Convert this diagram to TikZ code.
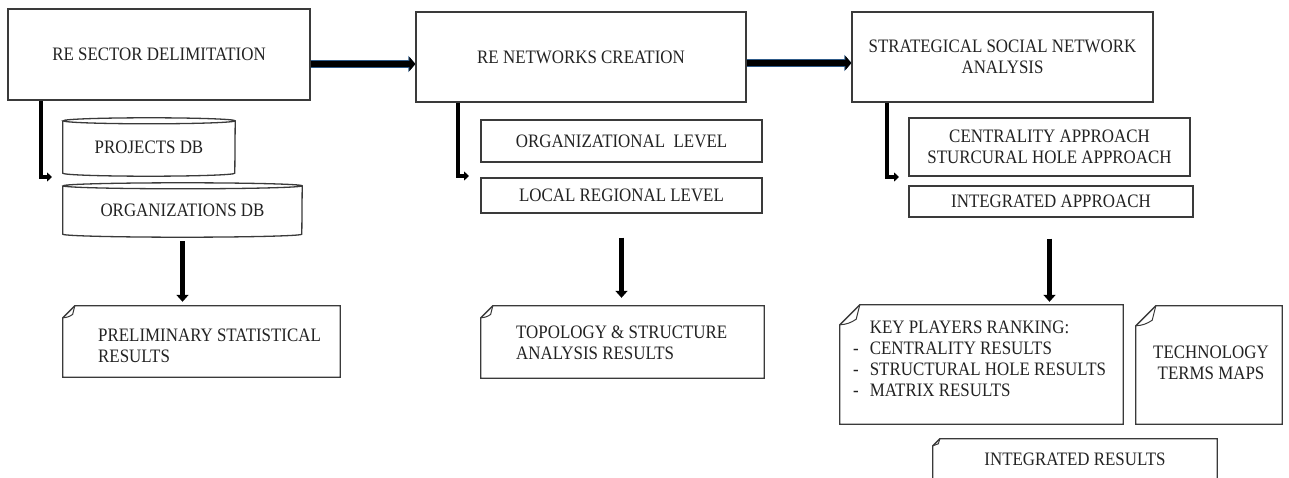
\documentclass[tikz,border=0pt]{standalone}
\usepackage{fontspec}
\setmainfont{Liberation Serif}[FakeStretch=0.89]
\usetikzlibrary{arrows.meta}

\definecolor{inkline}{HTML}{3A3A3A}
\definecolor{inktext}{HTML}{222222}
\definecolor{arrowrim}{HTML}{2E5A88}

\tikzset{
  boxline/.style={draw=inkline, line width=1.3pt},
  plainbox/.style={boxline, rectangle, inner sep=0pt, font=\fontsize{19}{21}\selectfont,
    text=inktext, align=center},
  ghost/.style={rectangle, inner sep=0pt},
  label text/.style={inner sep=0pt, font=\fontsize{19}{21}\selectfont, text=inktext},
  harrow/.style={line width=6pt, draw=black, -{Triangle[length=6pt,width=14pt]},
    preaction={draw=arrowrim, line width=7.6pt, -{Triangle[length=7pt,width=16pt]}}},
  varrow/.style={line width=5pt, draw=black, -{Triangle[length=7pt,width=12pt]}},
  elbow/.style={line width=4pt, draw=black, -{Triangle[length=5pt,width=9pt]}},
}

% cylinder outline around a node: #1 node, #2 half width
\newcommand\dbcan[2]{%
  \draw[boxline]
    ([yshift=-3pt]#1.north west) -- ([yshift=3pt]#1.south west)
    arc[start angle=180, end angle=360, x radius=#2pt, y radius=3pt]
    -- ([yshift=-3pt]#1.north east)
    arc[start angle=0, end angle=360, x radius=#2pt, y radius=3pt];}

% note outline with a folded top-left corner: #1 node, #2 fold size
\newcommand\foldnote[2]{%
  \draw[boxline] ([yshift=-#2pt]#1.north west) -- ([xshift=#2pt]#1.north west)
    -- (#1.north east) -- (#1.south east) -- (#1.south west) -- cycle;
  \draw[boxline, line width=1pt] ([xshift=#2pt]#1.north west)
    -- ([xshift=0.82*#2pt, yshift=-0.72*#2pt]#1.north west)
    to[bend left=15] ([yshift=-#2pt]#1.north west);}

\begin{document}
\begin{tikzpicture}[x=1pt, y=-1pt]
\useasboundingbox (0,0) rectangle (1289,478);
\clip (0,0) rectangle (1289,478);

% main stages
\node[plainbox, minimum width=302pt, minimum height=91pt] (b1) at (159,54.5)
  {RE SECTOR DELIMITATION};
\node[plainbox, minimum width=330pt, minimum height=90pt] (b2) at (581,57)
  {RE NETWORKS CREATION};
\node[plainbox, minimum width=301pt, minimum height=90pt] (b3) at (1002.5,57)
  {STRATEGICAL SOCIAL NETWORK\\ANALYSIS};

\draw[harrow] ([yshift=-9.5pt]b1.east) -- ([yshift=-9.5pt]b1.east -| b2.west);
\draw[harrow] ([yshift=-6pt]b2.east) -- ([yshift=-6pt]b2.east -| b3.west);

% stage 1: databases
\node[ghost, label text, minimum width=172pt, minimum height=58pt] (proj) at (149,147)
  {PROJECTS DB};
\dbcan{proj}{86}
\node[ghost, label text, minimum width=239pt, minimum height=54pt] (orgdb) at (182.5,210)
  {ORGANIZATIONS DB};
\dbcan{orgdb}{119.5}

\coordinate (e1) at (52,177);
\draw[elbow] ([xshift=34pt]b1.south west) |- (e1);

\node[ghost, minimum width=277pt, minimum height=71pt] (prel) at (201.5,341.5) {};
\foldnote{prel}{12}
\node[label text, anchor=west, align=left] (prelT) at (98,346)
  {PRELIMINARY STATISTICAL\\RESULTS};
\draw[varrow] ([yshift=-4pt]orgdb.south) -- ([yshift=4pt]orgdb.south |- prel.north);

% stage 2: network levels
\node[plainbox, minimum width=281pt, minimum height=42pt] (orgl) at (621.5,141)
  {ORGANIZATIONAL\ \ LEVEL};
\node[plainbox, minimum width=281pt, minimum height=35pt] (locl) at (621.5,195.5)
  {LOCAL REGIONAL LEVEL};

\coordinate (e2) at (469,176);
\draw[elbow] ([xshift=43pt]b2.south west) |- (e2);

\node[ghost, minimum width=283pt, minimum height=72pt] (topo) at (622.5,342) {};
\foldnote{topo}{12}
\node[label text, anchor=west, align=left] (topoT) at (516,343)
  {TOPOLOGY \& STRUCTURE\\ANALYSIS RESULTS};
\draw[varrow] ([yshift=-24pt]locl.south) -- ([yshift=8pt]locl.south |- topo.north);

% stage 3: approaches
\node[plainbox, minimum width=281pt, minimum height=58pt] (cent) at (1049.5,147)
  {CENTRALITY APPROACH\\STURCURAL HOLE APPROACH};
\node[plainbox, minimum width=284pt, minimum height=31pt] (intap) at (1051,201.5)
  {INTEGRATED APPROACH};

\coordinate (e3) at (899,177);
\draw[elbow] ([xshift=36pt]b3.south west) |- (e3);

\node[ghost, minimum width=283pt, minimum height=119pt] (keyp) at (981.5,364.5) {};
\foldnote{keyp}{20}
\node[label text, anchor=west] (keypT) at (853,361)
  {\begin{tabular}{@{}l@{\hspace{11pt}}l@{}}
     & KEY PLAYERS RANKING:\\
   - & CENTRALITY RESULTS\\
   - & STRUCTURAL HOLE RESULTS\\
   - & MATRIX RESULTS
   \end{tabular}};
\draw[varrow] ([yshift=-21pt]cent.south |- intap.south) -- ([yshift=3pt]cent.south |- keyp.north);

\node[ghost, minimum width=146pt, minimum height=118pt] (tech) at (1209,365) {};
\foldnote{tech}{20}
\node[label text, align=center] (techT) at (1211,363) {TECHNOLOGY\\TERMS MAPS};

\node[ghost, label text, minimum width=284pt, minimum height=40pt] (intres) at (1075,459)
  {INTEGRATED RESULTS};
\draw[boxline] ([yshift=-2pt]intres.south west) -- ([yshift=-7pt]intres.north west)
  -- ([xshift=7pt]intres.north west) -- (intres.north east) -- ([yshift=-2pt]intres.south east);
\draw[boxline, line width=1pt] ([xshift=7pt]intres.north west)
  -- ([xshift=5.5pt, yshift=-5pt]intres.north west) to[bend left=15] ([yshift=-7pt]intres.north west);
\end{tikzpicture}
\end{document}
